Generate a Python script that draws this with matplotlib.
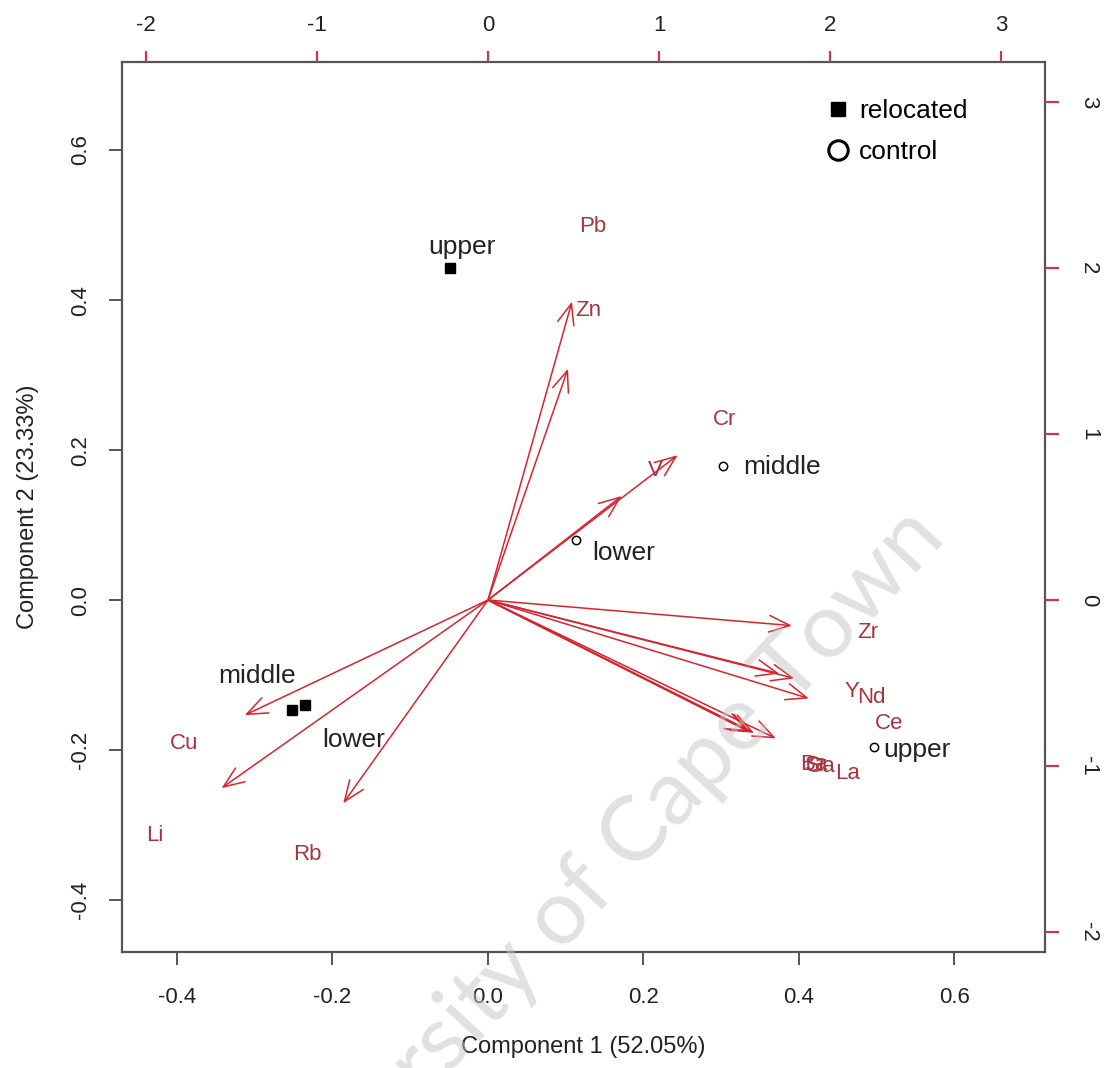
import matplotlib
matplotlib.use("Agg")
import matplotlib.pyplot as plt
from matplotlib.lines import Line2D

plt.rcParams['font.family'] = ['Liberation Sans', 'DejaVu Sans']

# sample scores (Component 1 / Component 2)
groups = ["relocated", "relocated", "relocated", "control", "control", "control"]
sites = ["upper", "middle", "lower", "lower", "middle", "upper"]
pc1 = [-0.049, -0.252, -0.235, 0.113, 0.302, 0.496]
pc2 = [0.443, -0.147, -0.140, 0.080, 0.179, -0.196]

# element loadings (upper / right scale)
elements = ["Pb", "Zn", "Cr", "V", "Zr", "Y", "Nd", "Ce", "La", "Ba", "Sr", "Ga", "Cu", "Li", "Rb"]
load1 = [0.614, 0.585, 1.386, 0.977, 2.222, 2.129, 2.240, 2.345, 2.105, 1.905, 1.920, 1.945, -1.778, -1.947, -1.058]
load2 = [2.247, 1.741, 1.090, 0.783, -0.193, -0.554, -0.590, -0.741, -1.042, -0.990, -0.995, -1.000, -0.867, -1.416, -1.530]

xticks = [-0.4, -0.2, 0.0, 0.2, 0.4, 0.6]
yticks = [-0.4, -0.2, 0.0, 0.2, 0.4, 0.6]
top_ticks = [-2, -1, 0, 1, 2, 3]
right_ticks = [-2, -1, 0, 1, 2, 3]

arrow_col = "#d8242e"
label_col = "#a8343f"
tick_red = "#c8374c"
frame_col = "#555555"

fig = plt.figure(figsize=(11.05, 10.68), dpi=100)
pos = [0.1104, 0.1086, 0.8353, 0.8333]
ax = fig.add_axes(pos)
ax.set_xlim(-0.4707, 0.7164)
ax.set_ylim(-0.469, 0.7173)

for s in ax.spines.values():
    s.set_color(frame_col)
    s.set_linewidth(1.6)
ax.set_xticks(xticks)
ax.set_yticks(yticks)
ax.set_xticklabels(["%.1f" % v for v in xticks])
ax.set_yticklabels(["%.1f" % v for v in yticks], rotation=90, va="center")
ax.tick_params(axis="x", length=9.5, width=1.4, color=frame_col, labelsize=16, pad=16, labelcolor="#222222")
ax.tick_params(axis="y", length=9.5, width=1.4, color=frame_col, labelsize=16, pad=13, labelcolor="#222222")
ax.set_xlabel("Component 1 (52.05%)", fontsize=17, color="#222222", labelpad=20)
ax.set_ylabel("Component 2 (23.33%)", fontsize=17, color="#222222", labelpad=22)

# loadings on their own scale
ax2 = fig.add_axes(pos, frameon=False)
ax2.set_xlim(-2.140, 3.257)
ax2.set_ylim(-2.12, 3.24)
ax2.xaxis.tick_top()
ax2.yaxis.tick_right()
ax2.set_xticks(top_ticks)
ax2.set_yticks(right_ticks)
ax2.set_xticklabels([str(v) for v in top_ticks])
ax2.set_yticklabels([str(v) for v in right_ticks], rotation=-90, va="center", ha="left")
ax2.tick_params(axis="x", length=8, width=1.6, color=tick_red, labelsize=16, pad=11, labelcolor="#222222")
ax2.tick_params(axis="y", length=10, width=1.6, color=tick_red, labelsize=16, pad=14, labelcolor="#222222")

for name, a, b in zip(elements, load1, load2):
    ax2.annotate("", xy=(0.8 * a, 0.8 * b), xytext=(0, 0),
                 arrowprops=dict(arrowstyle="->,head_length=0.75,head_width=0.3",
                                 color=arrow_col, lw=1.1, shrinkA=0, shrinkB=0,
                                 mutation_scale=20))
    ax2.text(a, b, name, color=label_col, fontsize=16, ha="center", va="center")

# sample points with their site names
label_offsets = {
    ("relocated", "upper"): (9, 15, "center"),
    ("relocated", "middle"): (-25, 25, "center"),
    ("relocated", "lower"): (35, -25, "center"),
    ("control", "lower"): (12, -9, "left"),
    ("control", "middle"): (15, -1, "left"),
    ("control", "upper"): (7, -2, "left"),
}
for g, site, x, y in zip(groups, sites, pc1, pc2):
    if g == "relocated":
        ax.plot(x, y, marker="s", ms=7, color="black", ls="none")
    else:
        ax.plot(x, y, marker="o", ms=6, mfc="white", mec="black", mew=1.1, ls="none")
    dx, dy, ha = label_offsets[(g, site)]
    ax.annotate(site, (x, y), xytext=(dx, dy), textcoords="offset points",
                ha=ha, va="center", fontsize=19, color="#222222")

handles = [Line2D([], [], marker="s", ms=10, color="black", ls="none"),
           Line2D([], [], marker="o", ms=14, mfc="white", mec="black", mew=2.2, ls="none")]
ax2.legend(handles, ["relocated", "control"], loc="upper left", bbox_to_anchor=(0.733, 0.985),
           frameon=False, fontsize=19, handletextpad=0.2, labelspacing=0.65, handlelength=1.2)

# watermark
fig.text(0.531, 0.168, "University of Cape Town", fontsize=66, color="#c4c4c4", alpha=0.5,
         family=["Lato", "DejaVu Sans"], rotation=47, ha="center", va="center",
         rotation_mode="anchor", zorder=10)

fig.savefig("out.png", dpi=100)
